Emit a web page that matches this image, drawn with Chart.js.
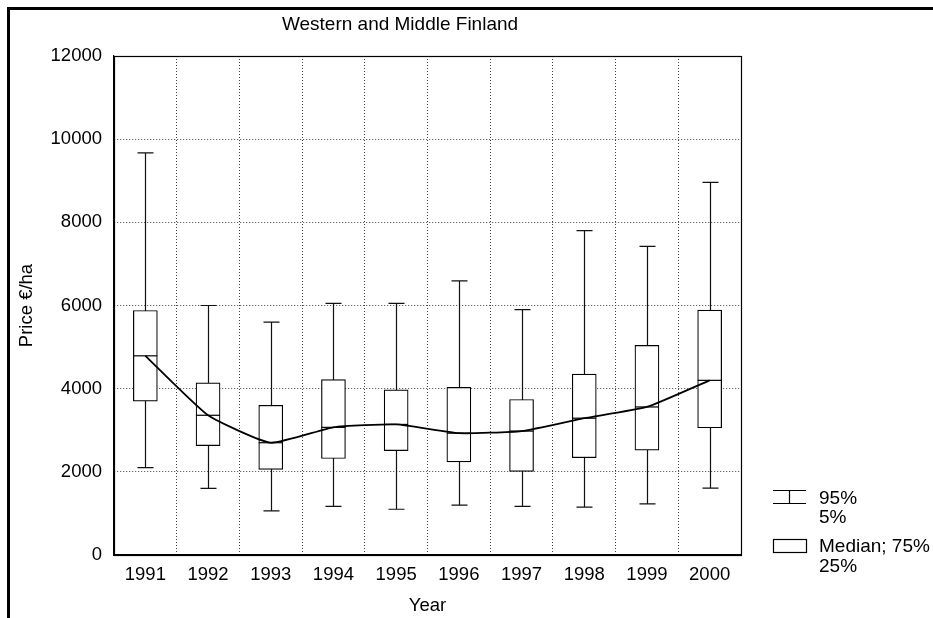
<!DOCTYPE html>
<html>
<head>
<meta charset="utf-8">
<script src="https://cdn.jsdelivr.net/npm/chart.js@4.4.1/dist/chart.umd.min.js"></script>
<style>
  html, body { margin: 0; padding: 0; background: #fff; }
  #wrap { width: 933px; height: 618px; position: relative; }
</style>
</head>
<body>
<div id="wrap"><canvas id="c" width="933" height="618"></canvas></div>
<script>
// Farmland prices per hectare, Western and Middle Finland
const years   = ['1991', '1992', '1993', '1994', '1995', '1996', '1997', '1998', '1999', '2000'];
const p95     = [9670, 6000, 5600, 6050, 6050, 6590, 5900, 7800, 7420, 8960];
const q75     = [5880, 4140, 3600, 4220, 3970, 4030, 3740, 4350, 5040, 5890];
const medians = [4790, 3360, 2700, 3070, 3140, 2930, 2980, 3290, 3560, 4200];
const q25     = [3700, 2630, 2060, 2320, 2510, 2240, 2010, 2340, 2520, 3060];
const p5      = [2100, 1600, 1060, 1170, 1100, 1200, 1170, 1150, 1230, 1610];
const yTicks  = [0, 2000, 4000, 6000, 8000, 10000, 12000];

const chartTitle = 'Western and Middle Finland';
const legendRows = [['95%', '5%'], ['Median; 75%', '25%']];

const FAMILY = '"Liberation Sans", Arial, Helvetica, sans-serif';
const FSIZE = 18.5;
const BIG = 19;
const INK = '#000';

// white page plus the heavy outer frame on the left and top
const pageFrame = {
  id: 'pageFrame',
  beforeDraw(chart) {
    const ctx = chart.ctx;
    ctx.save();
    ctx.fillStyle = '#fff';
    ctx.fillRect(0, 0, chart.width, chart.height);
    ctx.strokeStyle = INK;
    ctx.lineWidth = 3;
    ctx.beginPath();
    ctx.moveTo(8.5, chart.height);
    ctx.lineTo(8.5, 8.5);
    ctx.lineTo(chart.width, 8.5);
    ctx.stroke();
    ctx.restore();
  }
};

// whiskers from the 5th to the 95th percentile, with caps
const whiskers = {
  id: 'whiskers',
  beforeDatasetsDraw(chart) {
    const ctx = chart.ctx;
    const x = chart.scales.x, y = chart.scales.y;
    const boxMeta = chart.getDatasetMeta(0);
    ctx.save();
    ctx.strokeStyle = '#111';
    ctx.lineWidth = 1.2;
    years.forEach((_, i) => {
      const cx = Math.round(x.getPixelForValue(i)) + 0.5;
      const half = boxMeta.data[i].width / 3;
      const yTop = y.getPixelForValue(p95[i]);
      const yBot = y.getPixelForValue(p5[i]);
      ctx.beginPath();
      ctx.moveTo(cx, yTop);
      ctx.lineTo(cx, yBot);
      ctx.moveTo(cx - half, yTop);
      ctx.lineTo(cx + half, yTop);
      ctx.moveTo(cx - half, yBot);
      ctx.lineTo(cx + half, yBot);
      ctx.stroke();
    });
    ctx.restore();
  }
};

// median bars inside each box, the solid plot frame, title and key
const overlay = {
  id: 'overlay',
  afterDatasetsDraw(chart) {
    const ctx = chart.ctx;
    const y = chart.scales.y;
    const boxMeta = chart.getDatasetMeta(0);
    ctx.save();
    ctx.strokeStyle = INK;
    ctx.lineWidth = 1.2;
    boxMeta.data.forEach((bar, i) => {
      const my = y.getPixelForValue(medians[i]);
      ctx.beginPath();
      ctx.moveTo(bar.x - bar.width / 2, my);
      ctx.lineTo(bar.x + bar.width / 2, my);
      ctx.stroke();
    });
    const a = chart.chartArea;
    ctx.strokeRect(Math.round(a.left) + 0.5, Math.round(a.top) + 0.5,
                   Math.round(a.right - a.left), Math.round(a.bottom - a.top));
    ctx.restore();
  },
  afterDraw(chart) {
    const ctx = chart.ctx;
    ctx.save();
    ctx.fillStyle = INK;
    ctx.font = BIG + 'px ' + FAMILY;
    ctx.textAlign = 'center';
    ctx.textBaseline = 'middle';
    ctx.fillText(chartTitle, 400, 25);

    // key
    const sx = 773, sw = 33, tx = 819;
    ctx.strokeStyle = INK;
    ctx.lineWidth = 1.2;
    ctx.beginPath();
    ctx.moveTo(sx, 490.5); ctx.lineTo(sx + sw, 490.5);
    ctx.moveTo(sx + sw / 2, 490.5); ctx.lineTo(sx + sw / 2, 503);
    ctx.moveTo(sx, 503.5); ctx.lineTo(sx + sw, 503.5);
    ctx.stroke();
    ctx.strokeRect(sx + 0.5, 539.5, sw, 13);

    ctx.textAlign = 'left';
    ctx.fillText(legendRows[0][0], tx, 499);
    ctx.fillText(legendRows[0][1], tx, 518);
    ctx.fillText(legendRows[1][0], tx, 547);
    ctx.fillText(legendRows[1][1], tx, 567);
    ctx.restore();
  }
};

const font = { family: FAMILY, size: FSIZE };
const gridStyle = { color: '#444', lineWidth: 1, drawTicks: false };
const borderStyle = { display: true, color: INK, width: 1.2, dash: [1, 2] };

new Chart(document.getElementById('c'), {
  data: {
    labels: years,
    datasets: [
      {
        type: 'bar',
        label: 'Median; 75% / 25%',
        data: years.map((_, i) => [q25[i], q75[i]]),
        backgroundColor: '#fff',
        borderColor: INK,
        borderWidth: 1.2,
        borderSkipped: false,
        barThickness: 24,
        order: 1
      },
      {
        type: 'line',
        label: 'Median',
        data: medians,
        borderColor: INK,
        borderWidth: 1.8,
        pointRadius: 0,
        tension: 0.15,
        fill: false,
        order: 0
      }
    ]
  },
  options: {
    responsive: false,
    animation: false,
    layout: { padding: { left: 12, right: 192, top: 56, bottom: 0 } },
    plugins: {
      legend: { display: false },
      tooltip: { enabled: false },
      title: { display: false }
    },
    scales: {
      x: {
        type: 'category',
        offset: true,
        grid: Object.assign({ offset: true }, gridStyle),
        border: borderStyle,
        ticks: { color: INK, font, padding: 9, maxRotation: 0, autoSkip: false },
        title: { display: true, text: 'Year', color: INK, font, padding: { top: 0, bottom: 1 } },
        afterFit(s) { s.height = 63; }
      },
      y: {
        type: 'linear',
        min: 0,
        max: 12000,
        afterBuildTicks(s) { s.ticks = yTicks.map(v => ({ value: v })); },
        grid: gridStyle,
        border: borderStyle,
        ticks: { color: INK, font, padding: 12, callback: v => String(v) },
        title: { display: true, text: 'Price €/ha', color: INK, font, padding: { top: 4, bottom: 0 } },
        afterFit(s) { s.width = 102; }
      }
    }
  },
  plugins: [pageFrame, whiskers, overlay]
});
</script>
</body>
</html>
